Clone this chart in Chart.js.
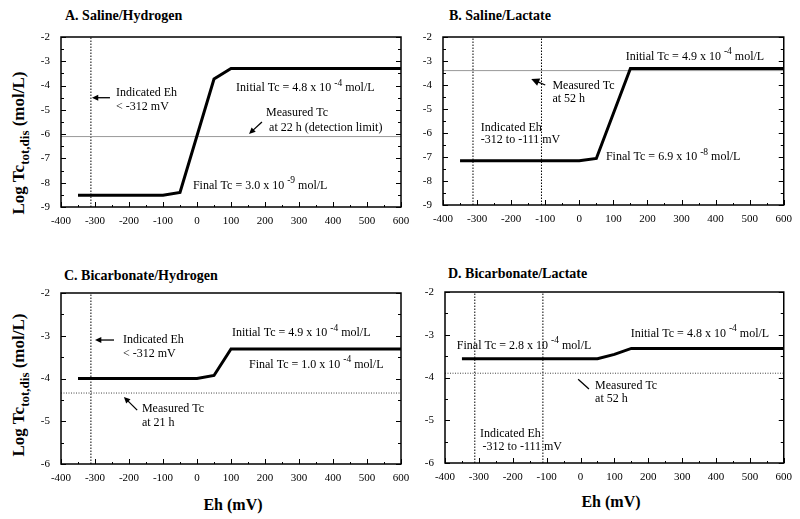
<!DOCTYPE html>
<html>
<head>
<meta charset="utf-8">
<script src="https://cdn.jsdelivr.net/npm/chart.js@4.4.1/dist/chart.umd.min.js"></script>
<style>
body { margin: 0; background: #fff; width: 800px; height: 519px; position: relative; overflow: hidden; font-family: "Liberation Serif", "DejaVu Serif", serif; color: #000; }
canvas { position: absolute; left: 0; top: 0; }
.ttl { position: absolute; font-weight: bold; font-size: 14px; white-space: nowrap; transform: translateY(-50%); }
.ylab { position: absolute; font-weight: bold; font-size: 17px; white-space: nowrap; transform: translate(-50%, -50%) rotate(-90deg); }
.ylab sub { font-size: 13px; }
.xlab { position: absolute; font-weight: bold; font-size: 16px; white-space: nowrap; transform: translate(-50%, -50%); }
</style>
</head>
<body>
<div class="ttl" style="left:65px;top:16px">A. Saline/Hydrogen</div>
<div class="ttl" style="left:449px;top:16px">B. Saline/Lactate</div>
<div class="ttl" style="left:64px;top:276px">C. Bicarbonate/Hydrogen</div>
<div class="ttl" style="left:448px;top:274px">D. Bicarbonate/Lactate</div>
<div class="ylab" style="left:21px;top:143px">Log Tc<sub>tot,dis</sub> (mol/L)</div>
<div class="ylab" style="left:21px;top:385px">Log Tc<sub>tot,dis</sub> (mol/L)</div>
<div class="xlab" style="left:233px;top:505px">Eh (mV)</div>
<div class="xlab" style="left:611px;top:502px">Eh (mV)</div>
<canvas id="chartA" width="800" height="519"></canvas>
<canvas id="chartB" width="800" height="519"></canvas>
<canvas id="chartC" width="800" height="519"></canvas>
<canvas id="chartD" width="800" height="519"></canvas>
<script>
// Eh (mV) vs log total dissolved Tc, per experiment
const ehA = [-350, -100, -50, 50, 100, 600];
const logTcA = [-8.52, -8.52, -8.4, -3.73, -3.3, -3.3];
const ehB = [-350, 0, 50, 150, 600];
const logTcB = [-7.16, -7.16, -7.06, -3.31, -3.31];
const ehC = [-350, 0, 50, 100, 600];
const logTcC = [-4.0, -4.0, -3.93, -3.31, -3.31];
const ehD = [-350, 50, 100, 150, 600];
const logTcD = [-3.56, -3.56, -3.46, -3.32, -3.32];

// measured Tc (horizontal) and indicated Eh (vertical) reference lines
const measuredA = -6.1, measuredB = -3.4, measuredC = -4.34, measuredD = -3.9;
const indicatedA = [-312], indicatedB = [-312, -111];
const indicatedC = [-312], indicatedD = [-312, -111];

const xTicks = [-400, -300, -200, -100, 0, 100, 200, 300, 400, 500, 600];
const yTicksTop = [-2, -3, -4, -5, -6, -7, -8, -9];
const yTicksBottom = [-2, -3, -4, -5, -6];

const SERIF = '"Liberation Serif", "DejaVu Serif", serif';

function drawRich(ctx, str, x, y) {
    const parts = str.split('^');
    let cx = x;
    parts.forEach((p, i) => {
        if (i % 2) {
            ctx.font = '9.5px ' + SERIF;
            ctx.fillText(p, cx, y - 5);
        } else {
            ctx.font = '12px ' + SERIF;
            ctx.fillText(p, cx, y);
        }
        cx += ctx.measureText(p).width;
    });
}

const framePlugin = {
    id: 'frame',
    afterDatasetsDraw(chart, args, opts) {
        const { ctx, chartArea: a, scales: { x, y } } = chart;
        ctx.save();
        ctx.strokeStyle = '#000';
        ctx.lineWidth = 1.5;
        ctx.strokeRect(a.left, a.top, a.right - a.left, a.bottom - a.top);

        // inward ticks
        ctx.lineWidth = 1;
        ctx.beginPath();
        for (let v = x.min; v <= x.max; v += 50) {
            const px = Math.round(x.getPixelForValue(v)) + 0.5;
            const len = v % 100 === 0 ? 5 : 2;
            ctx.moveTo(px, a.bottom);
            ctx.lineTo(px, a.bottom - len);
        }
        for (let k = y.max * 2; k >= y.min * 2; k--) {
            const py = Math.round(y.getPixelForValue(k / 2)) + 0.5;
            const len = k % 2 === 0 ? 5 : 3;
            ctx.moveTo(a.left, py);
            ctx.lineTo(a.left + len, py);
            ctx.moveTo(a.right, py);
            ctx.lineTo(a.right - len, py);
        }
        ctx.stroke();

        // text notes
        ctx.fillStyle = '#000';
        ctx.textBaseline = 'middle';
        ctx.textAlign = 'left';
        (opts.texts || []).forEach(t => {
            drawRich(ctx, t[0], x.getPixelForValue(t[1]), y.getPixelForValue(t[2]));
        });

        // arrows
        (opts.arrows || []).forEach(ar => {
            const x1 = x.getPixelForValue(ar[0]), y1 = y.getPixelForValue(ar[1]);
            const x2 = x.getPixelForValue(ar[2]), y2 = y.getPixelForValue(ar[3]);
            const hs = ar[4];
            const ang = Math.atan2(y2 - y1, x2 - x1);
            ctx.lineWidth = 1.3;
            ctx.beginPath();
            ctx.moveTo(x1, y1);
            ctx.lineTo(x2 - Math.cos(ang) * hs * 0.8, y2 - Math.sin(ang) * hs * 0.8);
            ctx.stroke();
            if (hs > 0) {
                ctx.beginPath();
                ctx.moveTo(x2, y2);
                ctx.lineTo(x2 - hs * Math.cos(ang - 0.45), y2 - hs * Math.sin(ang - 0.45));
                ctx.lineTo(x2 - hs * Math.cos(ang + 0.45), y2 - hs * Math.sin(ang + 0.45));
                ctx.closePath();
                ctx.fill();
            }
        });
        ctx.restore();
    }
};

function makePanel(id, box, yTicks, eh, logTc, measured, measuredDash, indicated, notes) {
    const yw = 40, xh = 30;
    const ymin = yTicks[yTicks.length - 1], ymax = yTicks[0];
    const datasets = [{
        data: eh.map((v, i) => ({ x: v, y: logTc[i] })),
        showLine: true, borderColor: '#000', borderWidth: 3, pointRadius: 0,
        borderJoinStyle: 'miter'
    }, {
        data: [{ x: -400, y: measured }, { x: 600, y: measured }],
        showLine: true, borderColor: measuredDash ? '#444' : '#999', borderWidth: 1,
        borderDash: measuredDash ? [1, 1.5] : [], pointRadius: 0
    }];
    indicated.forEach(v => {
        datasets.push({
            data: [{ x: v, y: ymin }, { x: v, y: ymax }],
            showLine: true, borderColor: '#000', borderWidth: 1,
            borderDash: [1.5, 1.5], pointRadius: 0
        });
    });
    new Chart(document.getElementById(id), {
        type: 'scatter',
        data: { datasets },
        options: {
            responsive: false,
            animation: false,
            events: [],
            layout: { padding: { left: box.l - yw, top: box.t, right: 800 - box.r, bottom: 519 - box.b - xh } },
            plugins: {
                legend: { display: false },
                tooltip: { enabled: false },
                frame: notes
            },
            scales: {
                x: {
                    type: 'linear', min: -400, max: 600,
                    afterBuildTicks: s => { s.ticks = xTicks.map(v => ({ value: v })); },
                    afterFit: s => { s.height = xh; },
                    grid: { display: false, drawTicks: false },
                    border: { display: false },
                    ticks: { color: '#000', font: { family: SERIF, size: 11 }, padding: 8, maxRotation: 0, autoSkip: false }
                },
                y: {
                    type: 'linear', min: ymin, max: ymax,
                    afterBuildTicks: s => { s.ticks = yTicks.map(v => ({ value: v })); },
                    afterFit: s => { s.width = yw; },
                    grid: { display: false, drawTicks: false },
                    border: { display: false },
                    ticks: { color: '#000', font: { family: SERIF, size: 11 }, padding: 11, autoSkip: false }
                }
            }
        },
        plugins: [framePlugin]
    });
}

makePanel('chartA', { l: 61, t: 37, r: 401, b: 207 }, yTicksTop, ehA, logTcA, measuredA, false, indicatedA, {
    texts: [
        ['Indicated Eh', -238, -4.3],
        ['< -312 mV', -238, -4.88],
        ['Initial Tc = 4.8 x 10 ^-4^ mol/L', 115, -4.1],
        ['Measured Tc', 203, -5.13],
        ['at 22 h (detection limit)', 212, -5.75],
        ['Final Tc = 3.0 x 10 ^-9^ mol/L', -12, -8.13]
    ],
    arrows: [[-256, -4.5, -309, -4.5, 7], [191, -5.5, 153, -5.99, 7]]
});

makePanel('chartB', { l: 443, t: 37, r: 786, b: 205 }, yTicksTop, ehB, logTcB, measuredB, false, indicatedB, {
    texts: [
        ['Initial Tc = 4.9 x 10 ^-4^ mol/L', 136, -2.83],
        ['Measured Tc', -79, -4.04],
        ['at 52 h', -79, -4.58],
        ['Indicated Eh', -289, -5.79],
        ['-312 to -111 mV', -289, -6.29],
        ['Final Tc = 6.9 x 10 ^-8^ mol/L', 78, -7.0]
    ],
    arrows: [[-100, -4.0, -141, -3.75, 9]]
});

makePanel('chartC', { l: 61, t: 293, r: 401, b: 464 }, yTicksBottom, ehC, logTcC, measuredC, true, indicatedC, {
    texts: [
        ['Indicated Eh', -218, -3.1],
        ['< -312 mV', -218, -3.43],
        ['Initial Tc = 4.9 x 10 ^-4^ mol/L', 103, -2.94],
        ['Final Tc = 1.0 x 10 ^-4^ mol/L', 153, -3.68],
        ['Measured Tc', -162, -4.71],
        ['at 21 h', -162, -5.04]
    ],
    arrows: [[-244, -3.1, -300, -3.1, 7], [-176, -4.74, -215, -4.43, 7]]
});

makePanel('chartD', { l: 445, t: 292, r: 786, b: 463 }, yTicksBottom, ehD, logTcD, measuredD, true, indicatedD, {
    texts: [
        ['Final Tc = 2.8 x 10 ^-4^ mol/L', -365, -3.26],
        ['Initial Tc = 4.8 x 10 ^-4^ mol/L', 148, -2.98],
        ['Measured Tc', 43, -4.2],
        ['at 52 h', 43, -4.5],
        ['Indicated Eh', -297, -5.32],
        ['-312 to -111 mV', -289, -5.63]
    ],
    arrows: [[25, -4.27, -7, -4.04, 0]]
});
</script>
</body>
</html>
